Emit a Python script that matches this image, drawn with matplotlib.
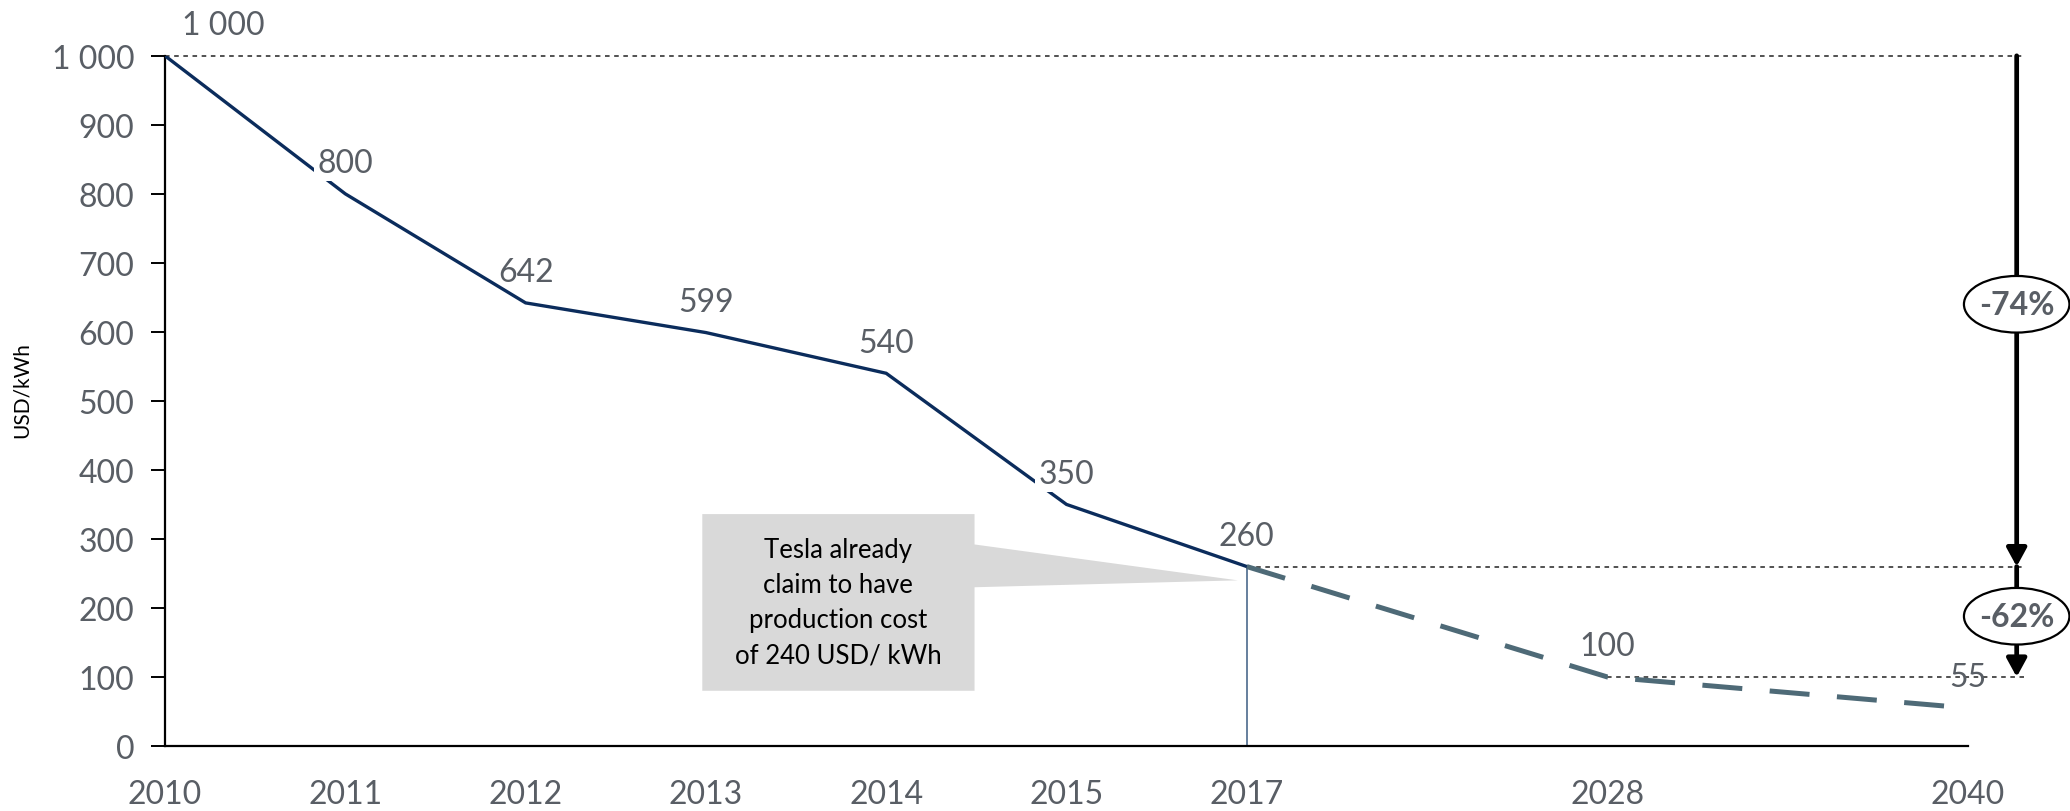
import numpy as np
import matplotlib
matplotlib.use('Agg')
import matplotlib.pyplot as plt
from matplotlib.patches import Polygon, Ellipse

# data
years = ['2010', '2011', '2012', '2013', '2014', '2015', '2017', '', '2028', '', '2040']
cost = [1000, 800, 642, 599, 540, 350, 260, np.nan, 100, np.nan, 55]
actual_until = '2017'
tesla_claim = 240
drop_labels = ['-74%', '-62%']
y_ticks = [0, 100, 200, 300, 400, 500, 600, 700, 800, 900, 1000]

navy = '#0b2c5c'
slate = '#4e6a77'
label_grey = '#595e65'

plt.rcParams['font.family'] = ['Lato', 'DejaVu Sans']

fig = plt.figure(figsize=(20.7, 8.12), dpi=100)
ax = fig.add_axes([165/2070, 1-747/812, (1968-165)/2070, (747-56.8)/812])

x = np.arange(len(years))
y = np.array(cost, dtype=float)
ok = ~np.isnan(y)
xs, ys = x[ok], y[ok]
split = years.index(actual_until)

# solid history, dashed forecast
ax.plot(x[:split+1], y[:split+1], color=navy, lw=2.4, solid_joinstyle='miter', zorder=3)
fc = xs >= split
ax.plot(xs[fc], ys[fc], color=slate, lw=3.6, linestyle=(0, (8, 5.5)), zorder=3)

# thin marker at 2017
ax.vlines(split, 0, cost[split], color='#4c6a8c', lw=1.2, zorder=2)

# data labels
for xi, yi in zip(xs, ys):
    txt = '{:,.0f}'.format(yi).replace(',', ' ')
    dx = 42 if yi == 1000 else 0
    ax.annotate(txt, (xi, yi), xytext=(dx, 22), textcoords='offset points',
                ha='center', va='center', fontsize=23, color=label_grey, zorder=4,
                annotation_clip=False,
                bbox=dict(boxstyle='square,pad=0.1', fc='white', ec='none') if yi in (800, 350) else None)

# reference lines and arrows on the right
xr = 10.31
xa = 10.27
ref_kw = dict(color='#222222', lw=1.1, linestyle=(0, (3, 3)), clip_on=False, zorder=2)
ax.plot([0, xr], [cost[0], cost[0]], **ref_kw)
ax.plot([split, xr], [cost[split], cost[split]], **ref_kw)
ax.plot([8, xr], [cost[8], cost[8]], **ref_kw)

arrow_kw = dict(arrowstyle='-|>,head_length=0.55,head_width=0.3', lw=3.4, color='black',
                shrinkA=0, shrinkB=0, mutation_scale=20)
ax.annotate('', xy=(xa, cost[split]), xytext=(xa, cost[0]), arrowprops=arrow_kw,
            annotation_clip=False, zorder=3)
ax.annotate('', xy=(xa, cost[8]), xytext=(xa, cost[split]), arrowprops=arrow_kw,
            annotation_clip=False, zorder=3)

for lab, yc in zip(drop_labels, [640, 188]):
    ax.add_patch(Ellipse((xa, yc), 0.585, 82, fc='white', ec='black', lw=1.6,
                         clip_on=False, zorder=5))
    ax.text(xa, yc, lab, ha='center', va='center', fontsize=23, fontweight='bold',
            color=label_grey, zorder=6)

# callout box
box = [(2.98, 336), (4.49, 336), (4.49, 292), (split - 0.05, tesla_claim),
       (4.49, 230), (4.49, 80), (2.98, 80)]
ax.add_patch(Polygon(box, closed=True, fc='#d9d9d9', ec='none', zorder=1))
ax.text(3.735, 208, 'Tesla already\nclaim to have\nproduction cost\nof 240 USD/ kWh',
        ha='center', va='center', fontsize=18.5, color='black', linespacing=1.5, zorder=2)

# axes styling
ax.set_xlim(0, 10)
ax.set_ylim(0, 1000)
ax.set_xticks(x)
ax.set_xticklabels(years)
ax.set_yticks(y_ticks)
ax.set_yticklabels(['{:,}'.format(v).replace(',', ' ') for v in y_ticks])
ax.tick_params(axis='x', length=0, pad=24, labelsize=23, labelcolor=label_grey)
ax.tick_params(axis='y', length=10, width=1.4, pad=12, labelsize=23, labelcolor=label_grey)
for s in ['top', 'right']:
    ax.spines[s].set_visible(False)
for s in ['left', 'bottom']:
    ax.spines[s].set_linewidth(1.6)
ax.set_ylabel('USD/kWh', fontsize=15, color='black')
ax.yaxis.set_label_coords(-133/1803, (747-390)/690.2)

fig.savefig('out.png', dpi=100)
